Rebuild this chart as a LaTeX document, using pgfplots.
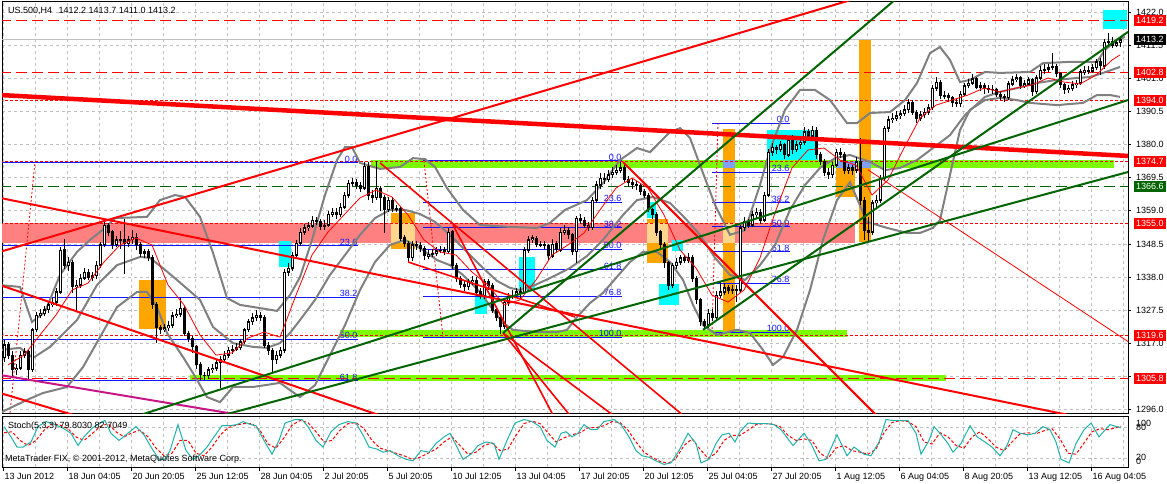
\documentclass[border=0pt]{standalone}
\usepackage{pgfplots}
\pgfplotsset{compat=1.18}
\usepackage{pgfplotstable}
\usepackage{fontspec}
\setmainfont{Liberation Sans}

\definecolor{mtgrid}{RGB}{192,192,192}
\definecolor{mtpink}{RGB}{255,128,128}
\definecolor{mtorange}{RGB}{255,165,0}
\definecolor{mtlime}{RGB}{124,252,0}
\definecolor{mtcyan}{RGB}{0,255,255}
\definecolor{mtpeach}{RGB}{255,214,140}
\definecolor{mtsky}{RGB}{128,160,255}
\definecolor{mtgreen}{RGB}{0,100,0}
\definecolor{mtgray}{RGB}{128,128,128}
\definecolor{mtmagenta}{RGB}{199,21,133}
\definecolor{mtsea}{RGB}{32,178,170}
\definecolor{mtblue}{RGB}{20,20,255}

\newcommand\mtf{\fontsize{9bp}{10bp}\selectfont}
\newcommand\fibf{\fontsize{9bp}{10bp}\selectfont}

% H4 candles: x is the bar position in chart pixels, then open high low close
\pgfplotstableread{
x o h l c
4 1312.5 1318.0 1311.0 1316.5
8 1316.5 1317.5 1312.0 1313.3
12 1313.3 1314.5 1306.5 1308.6
16 1308.6 1310.5 1307.0 1309.2
20 1309.2 1314.5 1308.5 1313.3
24 1313.3 1315.5 1312.5 1314.3
28 1314.3 1315.0 1305.0 1308.6
32 1308.6 1322.0 1308.0 1321.3
36 1321.3 1327.0 1320.5 1326.0
40 1326.0 1328.0 1325.0 1326.6
44 1326.6 1328.8 1325.8 1327.6
48 1327.6 1330.5 1326.8 1329.2
52 1329.2 1331.5 1328.5 1330.1
56 1330.1 1334.5 1329.0 1333.3
60 1333.3 1347.5 1332.5 1346.6
64 1346.6 1350.0 1340.5 1341.8
68 1341.8 1344.5 1340.0 1342.8
72 1342.8 1343.5 1333.0 1334.9
76 1334.9 1337.0 1327.0 1335.5
80 1335.5 1339.0 1334.5 1337.7
84 1337.7 1341.0 1337.0 1339.6
88 1339.6 1340.5 1337.0 1338.0
92 1338.0 1339.5 1336.8 1338.4
96 1338.4 1343.0 1337.5 1341.8
100 1341.8 1349.0 1341.0 1348.2
104 1348.2 1355.5 1347.5 1354.5
108 1354.5 1355.0 1351.0 1352.3
112 1352.3 1353.0 1347.0 1348.2
116 1348.2 1351.0 1347.5 1349.8
120 1349.8 1352.5 1347.0 1350.0
124 1350.0 1356.5 1339.0 1348.8
128 1348.8 1351.0 1347.5 1349.8
132 1349.8 1353.0 1348.5 1350.7
136 1350.7 1352.0 1346.5 1348.2
140 1348.2 1349.0 1344.5 1345.6
144 1345.6 1347.0 1344.0 1346.0
148 1346.0 1347.0 1343.0 1344.1
152 1344.1 1345.0 1328.0 1329.2
156 1329.2 1330.0 1317.0 1321.9
160 1321.9 1323.0 1320.0 1321.3
164 1321.3 1323.0 1320.5 1321.9
168 1321.9 1324.0 1321.0 1322.8
172 1322.8 1327.0 1322.0 1325.7
176 1325.7 1328.0 1325.0 1326.3
180 1326.3 1331.5 1325.5 1328.2
184 1328.2 1329.0 1319.5 1320.3
188 1320.3 1321.0 1317.5 1318.7
192 1318.7 1319.5 1314.0 1315.9
196 1315.9 1316.5 1309.0 1310.2
200 1310.2 1311.0 1305.5 1307.0
204 1307.0 1308.0 1305.5 1306.7
208 1306.7 1309.5 1305.8 1308.6
212 1308.6 1310.5 1307.5 1309.2
216 1309.2 1311.8 1308.2 1310.8
220 1310.8 1313.0 1303.0 1311.8
224 1311.8 1314.5 1311.0 1313.3
228 1313.3 1316.0 1312.5 1314.9
232 1314.9 1316.5 1313.8 1315.2
236 1315.2 1317.0 1314.5 1315.6
240 1315.6 1318.5 1314.8 1317.5
244 1317.5 1322.0 1316.8 1321.3
248 1321.3 1324.8 1320.5 1323.8
252 1323.8 1326.5 1323.0 1325.1
256 1325.1 1327.5 1324.0 1326.0
260 1326.0 1327.0 1324.0 1325.1
264 1325.1 1326.0 1315.5 1316.5
268 1316.5 1317.5 1313.5 1314.9
272 1314.9 1315.5 1308.0 1311.8
276 1311.8 1314.5 1310.5 1313.3
280 1313.3 1316.0 1312.5 1314.9
284 1314.9 1340.5 1314.0 1339.6
288 1339.6 1342.5 1338.5 1340.9
292 1340.9 1346.0 1340.0 1345.0
296 1345.0 1349.8 1344.0 1348.8
300 1348.8 1353.5 1348.0 1352.3
304 1352.3 1355.0 1351.5 1353.6
308 1353.6 1355.5 1352.5 1354.2
312 1354.2 1357.5 1353.5 1356.1
316 1356.1 1357.0 1354.5 1355.5
320 1355.5 1356.5 1353.0 1354.2
324 1354.2 1356.0 1353.0 1354.5
328 1354.5 1359.0 1353.8 1358.0
332 1358.0 1360.0 1357.0 1358.6
336 1358.6 1360.0 1356.5 1357.7
340 1357.7 1361.5 1357.0 1360.2
344 1360.2 1365.0 1359.5 1364.0
348 1364.0 1368.8 1363.0 1367.8
352 1367.8 1369.5 1366.8 1368.1
356 1368.1 1369.0 1366.0 1366.9
360 1366.9 1368.0 1365.0 1366.2
364 1366.2 1374.5 1365.5 1373.2
368 1373.2 1374.5 1362.5 1364.0
372 1364.0 1365.5 1361.5 1363.1
376 1363.1 1374.8 1362.5 1366.2
380 1366.2 1367.0 1359.0 1363.1
384 1363.1 1364.0 1352.0 1359.3
388 1359.3 1363.5 1358.5 1362.4
392 1362.4 1363.0 1358.5 1359.9
396 1359.9 1361.0 1358.5 1359.6
400 1359.6 1360.5 1349.5 1350.4
404 1350.4 1351.5 1347.5 1348.8
408 1348.8 1349.5 1342.5 1344.1
412 1344.1 1349.5 1343.0 1348.2
416 1348.2 1349.5 1346.5 1347.9
420 1347.9 1349.0 1346.0 1347.2
424 1347.2 1348.0 1343.5 1344.7
428 1344.7 1346.5 1343.8 1345.3
432 1345.3 1347.0 1344.5 1345.6
436 1345.6 1347.5 1344.8 1346.3
440 1346.3 1348.0 1345.5 1346.6
444 1346.6 1347.5 1345.0 1346.0
448 1346.0 1353.5 1345.5 1352.3
452 1352.3 1353.0 1340.5 1341.8
456 1341.8 1342.5 1336.5 1337.7
460 1337.7 1338.5 1334.5 1335.8
464 1335.8 1337.0 1333.5 1334.9
468 1334.9 1337.5 1333.8 1336.5
472 1336.5 1338.5 1335.5 1337.1
476 1337.1 1338.0 1332.0 1333.3
480 1333.3 1334.5 1331.0 1332.0
484 1332.0 1337.5 1331.2 1336.5
488 1336.5 1337.5 1334.0 1335.5
492 1335.5 1336.0 1326.5 1327.6
496 1327.6 1328.5 1324.0 1325.1
500 1325.1 1326.0 1320.0 1322.5
504 1322.5 1331.0 1321.5 1330.1
508 1330.1 1333.0 1329.0 1332.0
512 1332.0 1334.0 1331.0 1332.3
516 1332.3 1334.5 1331.5 1333.3
520 1333.3 1334.8 1331.5 1333.0
524 1333.0 1347.5 1332.5 1346.6
528 1346.6 1351.0 1345.5 1349.8
532 1349.8 1351.5 1348.8 1350.4
536 1350.4 1351.0 1347.5 1348.2
540 1348.2 1349.5 1347.5 1348.5
544 1348.5 1349.5 1347.0 1347.9
548 1347.9 1348.5 1343.5 1344.7
552 1344.7 1350.0 1344.0 1348.5
556 1348.5 1349.5 1345.5 1346.6
560 1346.6 1353.5 1346.0 1352.3
564 1352.3 1354.5 1351.5 1352.9
568 1352.9 1353.8 1350.0 1351.4
572 1351.4 1352.0 1345.0 1346.0
576 1346.0 1357.5 1342.5 1356.7
580 1356.7 1358.0 1355.0 1356.1
584 1356.1 1357.0 1353.5 1354.5
588 1354.5 1355.5 1352.5 1353.6
592 1353.6 1363.5 1353.0 1362.4
596 1362.4 1368.5 1361.5 1367.2
600 1367.2 1371.0 1366.0 1369.4
604 1369.4 1371.0 1367.5 1368.8
608 1368.8 1372.0 1368.0 1370.4
612 1370.4 1373.0 1369.5 1371.3
616 1371.3 1373.5 1370.5 1371.9
620 1371.9 1374.5 1371.0 1372.6
624 1372.6 1374.0 1368.0 1368.8
628 1368.8 1370.0 1366.5 1368.1
632 1368.1 1369.0 1366.0 1367.2
636 1367.2 1368.5 1365.5 1366.9
640 1366.9 1367.5 1364.0 1365.0
644 1365.0 1366.0 1363.0 1364.0
648 1364.0 1364.5 1358.5 1359.3
652 1359.3 1360.0 1356.5 1357.7
656 1357.7 1358.5 1351.0 1352.3
660 1352.3 1353.0 1347.0 1348.2
664 1348.2 1349.0 1341.0 1342.5
668 1342.5 1343.0 1334.0 1335.5
672 1335.5 1342.5 1334.5 1341.8
676 1341.8 1344.0 1340.5 1342.8
680 1342.8 1345.0 1342.0 1344.1
684 1344.1 1345.0 1342.5 1343.4
688 1343.4 1345.5 1342.5 1344.1
692 1344.1 1345.0 1336.5 1337.7
696 1337.7 1338.5 1329.5 1330.8
700 1330.8 1331.5 1322.5 1323.8
704 1323.8 1324.8 1321.5 1322.8
708 1322.8 1328.0 1322.0 1326.6
712 1326.6 1328.0 1324.0 1325.1
716 1325.1 1333.5 1324.5 1332.3
720 1332.3 1336.5 1331.5 1333.3
724 1333.3 1336.0 1332.5 1334.6
728 1334.6 1335.5 1332.5 1333.9
732 1333.9 1335.5 1332.8 1334.2
736 1334.2 1335.5 1330.0 1333.9
740 1333.9 1354.5 1333.0 1353.6
744 1353.6 1357.0 1352.5 1355.5
748 1355.5 1356.5 1353.5 1354.5
752 1354.5 1359.0 1353.8 1357.7
756 1357.7 1360.0 1356.5 1358.6
760 1358.6 1359.5 1355.0 1356.1
764 1356.1 1365.0 1355.5 1364.0
768 1364.0 1378.5 1363.5 1377.6
772 1377.6 1380.5 1376.5 1379.2
776 1379.2 1380.0 1377.0 1378.3
780 1378.3 1381.0 1377.5 1379.9
784 1379.9 1380.5 1375.5 1376.7
788 1376.7 1382.5 1376.0 1381.4
792 1381.4 1383.0 1377.0 1378.3
796 1378.3 1381.0 1377.5 1379.9
800 1379.9 1382.0 1378.5 1380.8
804 1380.8 1385.5 1380.0 1384.0
808 1384.0 1385.0 1381.5 1382.7
812 1382.7 1386.0 1381.8 1384.6
816 1384.6 1385.5 1375.5 1376.7
820 1376.7 1377.5 1373.5 1374.5
824 1374.5 1375.5 1370.0 1371.3
828 1371.3 1372.5 1369.0 1370.4
832 1370.4 1374.5 1369.5 1373.5
836 1373.5 1378.5 1372.8 1377.6
840 1377.6 1378.8 1375.8 1377.0
844 1377.0 1377.8 1370.8 1371.9
848 1371.9 1374.0 1370.8 1372.6
852 1372.6 1373.5 1370.5 1371.9
856 1371.9 1376.0 1371.0 1374.5
860 1374.5 1382.0 1361.0 1362.4
864 1362.4 1363.5 1349.8 1352.9
868 1352.9 1357.0 1349.5 1352.3
872 1352.3 1362.5 1351.5 1361.5
876 1361.5 1364.0 1360.0 1362.4
880 1362.4 1370.5 1361.5 1369.4
884 1369.4 1386.0 1368.5 1385.2
888 1385.2 1389.0 1384.0 1387.8
892 1387.8 1390.0 1386.8 1388.4
896 1388.4 1390.5 1387.5 1389.1
900 1389.1 1391.0 1388.0 1389.7
904 1389.7 1392.5 1389.0 1391.0
908 1391.0 1394.5 1390.0 1393.2
912 1393.2 1394.0 1389.5 1390.3
916 1390.3 1391.0 1387.0 1388.4
920 1388.4 1390.5 1387.5 1389.4
924 1389.4 1391.5 1388.5 1390.3
928 1390.3 1392.8 1389.5 1391.6
932 1391.6 1399.0 1391.0 1397.9
936 1397.9 1401.5 1397.0 1399.8
940 1399.8 1400.5 1394.5 1395.7
944 1395.7 1397.0 1394.5 1395.4
948 1395.4 1396.5 1393.5 1394.8
952 1394.8 1395.5 1392.0 1393.2
956 1393.2 1394.5 1391.8 1392.9
960 1392.9 1397.0 1392.0 1396.0
964 1396.0 1399.5 1395.5 1398.6
968 1398.6 1400.8 1397.8 1399.5
972 1399.5 1402.5 1398.8 1400.8
976 1400.8 1401.5 1397.5 1398.2
980 1398.2 1399.8 1397.0 1398.6
984 1398.6 1399.5 1396.0 1397.9
988 1397.9 1399.0 1396.5 1397.6
992 1397.6 1398.8 1396.0 1397.3
996 1397.3 1398.0 1395.0 1396.0
1000 1396.0 1397.0 1394.0 1395.1
1004 1395.1 1396.0 1393.5 1394.8
1008 1394.8 1400.0 1394.0 1399.2
1012 1399.2 1401.8 1398.5 1400.5
1016 1400.5 1402.5 1399.8 1401.1
1020 1401.1 1401.8 1397.5 1398.6
1024 1398.6 1400.5 1398.0 1399.2
1028 1399.2 1401.5 1398.5 1400.5
1032 1400.5 1401.0 1395.5 1396.7
1036 1396.7 1402.0 1396.0 1401.1
1040 1401.1 1404.8 1400.5 1403.6
1044 1403.6 1405.5 1402.5 1403.9
1048 1403.9 1405.5 1403.0 1404.3
1052 1404.3 1409.0 1403.5 1404.6
1056 1404.6 1405.5 1401.5 1402.4
1060 1402.4 1403.0 1398.0 1398.9
1064 1398.9 1399.5 1396.0 1397.3
1068 1397.3 1399.0 1396.5 1397.9
1072 1397.9 1400.0 1397.0 1398.9
1076 1398.9 1400.5 1398.0 1399.5
1080 1399.5 1404.0 1399.0 1403.0
1084 1403.0 1405.0 1402.0 1403.6
1088 1403.6 1404.8 1402.5 1403.3
1092 1403.3 1405.5 1402.8 1404.3
1096 1404.3 1407.0 1403.5 1406.2
1100 1406.2 1407.5 1402.0 1404.9
1104 1404.9 1413.5 1404.0 1412.5
1108 1412.5 1415.5 1411.5 1412.8
1112 1412.8 1414.0 1410.5 1411.5
1116 1411.5 1413.5 1410.8 1412.2
1120 1412.2 1413.7 1411.0 1413.2
}\candles

\tikzset{
  lvbox/.style={anchor=west, inner xsep=2bp, inner ysep=0bp, minimum height=11bp,
    text=white, font=\mtf, xshift=6bp},
  tklbl/.style={anchor=west, inner sep=0bp, font=\mtf, xshift=8bp},
}

\begin{document}
\begin{tikzpicture}
\useasboundingbox (0,0) rectangle (1167bp,484bp);
\fill[white] (0,0) rectangle (1167bp,484bp);

% ---------------- price window ----------------
\begin{axis}[
  name=main, at={(2bp,70bp)}, anchor=south west, scale only axis,
  width=1126bp, height=412bp,
  xmin=2, xmax=1128, ymin=1294.64, ymax=1425.17,
  axis line style={black, line width=1bp},
  xtick={3.5,35.5,...,1123.5}, xticklabels={}, xtick style={draw=none},
  ytick={1296,1306.5,1317,1327.5,1338,1348.5,1359,1369.5,1380,1390.5,1401,1411.5,1422},
  yticklabels={}, ytick pos=right, tick align=outside, major tick length=3bp,
  ytick style={black, line width=0.8bp},
  grid=major, major grid style={mtgrid, line width=0.8bp, dash pattern=on 3bp off 3bp},
]
% rectangles
\addplot[fill=mtpink, draw=none] coordinates {(0,1355.2) (855,1355.2) (855,1348.8) (0,1348.8)} -- cycle;
\addplot[fill=mtlime, draw=none] coordinates {(371,1375.1) (1114,1375.1) (1114,1372.6) (371,1372.6)} -- cycle;
\addplot[fill=mtlime, draw=none] coordinates {(340,1321.3) (847,1321.3) (847,1319.0) (340,1319.0)} -- cycle;
\addplot[fill=mtlime, draw=none] coordinates {(190,1307.0) (946,1307.0) (946,1305.1) (190,1305.1)} -- cycle;
\addplot[fill=mtorange, draw=none] coordinates {(139,1337.1) (166,1337.1) (166,1321.6) (139,1321.6)} -- cycle;
\addplot[fill=mtorange, draw=none] coordinates {(391,1358.3) (415,1358.3) (415,1346.9) (391,1346.9)} -- cycle;
\addplot[fill=mtorange, draw=none] coordinates {(647,1356.4) (668,1356.4) (668,1342.5) (647,1342.5)} -- cycle;
\addplot[fill=mtorange, draw=none] coordinates {(723,1384.9) (735,1384.9) (735,1320.9) (723,1320.9)} -- cycle;
\addplot[fill=mtorange, draw=none] coordinates {(836,1374.8) (855,1374.8) (855,1363.4) (836,1363.4)} -- cycle;
\addplot[fill=mtorange, draw=none] coordinates {(859,1413.4) (871,1413.4) (871,1349.1) (859,1349.1)} -- cycle;
\addplot[fill=mtpeach, draw=none] coordinates {(391,1355.2) (415,1355.2) (415,1348.8) (391,1348.8)} -- cycle;
\addplot[fill=mtpeach, draw=none] coordinates {(647,1355.2) (668,1355.2) (668,1348.8) (647,1348.8)} -- cycle;
\addplot[fill=mtpeach, draw=none] coordinates {(723,1355.2) (735,1355.2) (735,1348.8) (723,1348.8)} -- cycle;
\addplot[fill=mtsky, draw=none] coordinates {(723,1375.1) (735,1375.1) (735,1372.6) (723,1372.6)} -- cycle;
\addplot[fill=mtsky, draw=none] coordinates {(836,1374.8) (855,1374.8) (855,1372.6) (836,1372.6)} -- cycle;
\addplot[fill=mtsky, draw=none] coordinates {(859,1375.1) (871,1375.1) (871,1372.6) (859,1372.6)} -- cycle;
\addplot[fill=mtcyan, draw=none] coordinates {(279,1349.5) (291,1349.5) (291,1341.2) (279,1341.2)} -- cycle;
\addplot[fill=mtcyan, draw=none] coordinates {(519,1344.4) (535,1344.4) (535,1333.9) (519,1333.9)} -- cycle;
\addplot[fill=mtcyan, draw=none] coordinates {(475,1332.3) (487,1332.3) (487,1326.3) (475,1326.3)} -- cycle;
\addplot[fill=mtcyan, draw=none] coordinates {(659,1335.8) (679,1335.8) (679,1329.2) (659,1329.2)} -- cycle;
\addplot[fill=mtcyan, draw=none] coordinates {(672,1349.8) (683,1349.8) (683,1346.3) (672,1346.3)} -- cycle;
\addplot[fill=mtcyan, draw=none] coordinates {(647,1361.8) (656,1361.8) (656,1356.7) (647,1356.7)} -- cycle;
\addplot[fill=mtcyan, draw=none] coordinates {(767,1384.6) (818,1384.6) (818,1375.1) (767,1375.1)} -- cycle;
\addplot[fill=mtcyan, draw=none] coordinates {(1103,1422.6) (1127,1422.6) (1127,1416.6) (1103,1416.6)} -- cycle;

% horizontal levels
\addplot[mtgrid, line width=1bp] coordinates {(0,1413.2) (1128,1413.2)};
\addplot[red, line width=1bp, dash pattern=on 11bp off 5bp] coordinates {(0,1419.2) (1128,1419.2)};
\addplot[red, line width=1bp, dash pattern=on 11bp off 5bp] coordinates {(0,1402.8) (1128,1402.8)};
\addplot[red, line width=1bp, dash pattern=on 3bp off 2bp] coordinates {(0,1394.0) (1128,1394.0)};
\addplot[red, line width=1bp, dash pattern=on 3bp off 2bp] coordinates {(0,1374.7) (1128,1374.7)};
\addplot[mtgreen, line width=1bp, dash pattern=on 11bp off 5bp] coordinates {(0,1366.6) (1128,1366.6)};
\addplot[red, line width=1bp, dash pattern=on 3bp off 2bp] coordinates {(0,1355.0) (1128,1355.0)};
\addplot[red, line width=1bp, dash pattern=on 3bp off 2bp] coordinates {(0,1319.6) (1128,1319.6)};
\addplot[red, line width=1bp, dash pattern=on 11bp off 5bp] coordinates {(0,1305.8) (1128,1305.8)};

% fibonacci retracements
\addplot[mtblue, line width=1bp] coordinates {(0,1374.2) (358,1374.2)};
\addplot[mtblue, line width=1bp] coordinates {(0,1347.9) (358,1347.9)};
\addplot[mtblue, line width=1bp] coordinates {(0,1331.7) (358,1331.7)};
\addplot[mtblue, line width=1bp] coordinates {(0,1318.4) (358,1318.4)};
\addplot[mtblue, line width=1bp] coordinates {(0,1305.1) (358,1305.1)};
\addplot[mtblue, line width=1bp] coordinates {(423,1374.8) (622,1374.8)};
\addplot[mtblue, line width=1bp] coordinates {(423,1361.6) (622,1361.6)};
\addplot[mtblue, line width=1bp] coordinates {(423,1353.6) (622,1353.6)};
\addplot[mtblue, line width=1bp] coordinates {(423,1346.9) (622,1346.9)};
\addplot[mtblue, line width=1bp] coordinates {(423,1340.3) (622,1340.3)};
\addplot[mtblue, line width=1bp] coordinates {(423,1332.0) (622,1332.0)};
\addplot[mtblue, line width=1bp] coordinates {(423,1319.0) (622,1319.0)};
\addplot[mtblue, line width=1bp] coordinates {(712,1386.8) (790,1386.8)};
\addplot[mtblue, line width=1bp] coordinates {(712,1371.3) (790,1371.3)};
\addplot[mtblue, line width=1bp] coordinates {(712,1361.5) (790,1361.5)};
\addplot[mtblue, line width=1bp] coordinates {(712,1353.9) (790,1353.9)};
\addplot[mtblue, line width=1bp] coordinates {(712,1346.0) (790,1346.0)};
\addplot[mtblue, line width=1bp] coordinates {(712,1336.1) (790,1336.1)};
\addplot[mtblue, line width=1bp] coordinates {(712,1320.6) (790,1320.6)};
\addplot[red, line width=0.8bp, dash pattern=on 2bp off 2bp] coordinates {(10,1295.0) (35,1374.5)};
\addplot[red, line width=0.8bp, dash pattern=on 2bp off 2bp] coordinates {(424,1374.8) (443,1319.0)};
\addplot[red, line width=0.8bp, dash pattern=on 2bp off 2bp] coordinates {(718,1386.8) (712,1320.6)};
\foreach \yy/\tt in {1374.2/0.0, 1347.9/23.6, 1331.7/38.2, 1318.4/50.0, 1305.1/61.8}
  {\edef\temp{\noexpand\node[anchor=south east, inner sep=0.5bp, font=\noexpand\fibf, text=mtblue] at (axis cs:358,\yy) {\tt};}\temp}
\foreach \yy/\tt in {1374.8/0.0, 1361.6/23.6, 1353.6/38.2, 1346.9/50.0, 1340.3/61.8, 1332.0/76.8, 1319.0/100.0}
  {\edef\temp{\noexpand\node[anchor=south east, inner sep=0.5bp, font=\noexpand\fibf, text=mtblue] at (axis cs:622,\yy) {\tt};}\temp}
\foreach \yy/\tt in {1386.8/0.0, 1371.3/23.6, 1361.5/38.2, 1353.9/50.0, 1346.0/61.8, 1336.1/76.8, 1320.6/100.0}
  {\edef\temp{\noexpand\node[anchor=south east, inner sep=0.5bp, font=\noexpand\fibf, text=mtblue] at (axis cs:790,\yy) {\tt};}\temp}

% Bollinger bands
\addplot[mtgray, line width=2bp] coordinates {(0,1335.5)(20,1334.9)(32,1323.8)(45,1327.0)(60,1338.7)(77,1346.0)(90,1349.8)(105,1353.6)(115,1356.7)(147,1357.1)(160,1362.4)(175,1364.0)(185,1363.4)(200,1357.1)(213,1345.7)(227,1331.4)(240,1329.2)(260,1328.2)(277,1327.3)(290,1332.3)(300,1338.0)(312,1349.8)(325,1364.0)(337,1375.1)(345,1379.2)(352,1379.2)(360,1374.2)(380,1372.3)(400,1372.9)(413,1375.7)(425,1375.4)(435,1372.9)(447,1366.2)(463,1359.3)(480,1354.5)(510,1353.9)(537,1353.6)(550,1355.2)(565,1359.3)(587,1362.4)(603,1367.8)(620,1375.1)(637,1378.9)(650,1377.6)(670,1384.0)(680,1385.2)(690,1382.1)(700,1373.5)(715,1360.9)(730,1351.4)(745,1352.9)(760,1367.2)(770,1378.3)(785,1391.0)(800,1397.3)(815,1397.3)(830,1394.1)(847,1386.8)(857,1386.8)(870,1390.0)(890,1390.3)(905,1394.1)(917,1399.5)(930,1409.0)(940,1410.9)(950,1406.8)(960,1399.8)(970,1400.5)(985,1403.0)(1000,1402.7)(1030,1403.0)(1043,1405.8)(1070,1406.2)(1097,1406.2)(1105,1410.0)(1117,1413.1)(1125,1414.1)};
\addplot[mtgray, line width=2bp] coordinates {(0,1314.9)(20,1315.6)(33,1312.4)(50,1315.9)(77,1324.4)(97,1335.5)(117,1341.8)(140,1344.4)(150,1344.1)(165,1340.3)(177,1337.1)(200,1330.8)(213,1322.2)(233,1317.1)(253,1315.9)(267,1315.6)(280,1317.1)(290,1320.3)(300,1324.4)(315,1330.8)(330,1338.7)(345,1345.0)(360,1351.4)(375,1356.7)(390,1359.3)(405,1359.3)(420,1358.0)(435,1355.5)(450,1351.4)(465,1346.6)(480,1341.8)(497,1336.8)(510,1334.6)(520,1333.9)(535,1335.5)(550,1337.7)(570,1340.9)(587,1344.7)(603,1349.8)(623,1357.7)(637,1362.4)(653,1363.4)(670,1361.5)(685,1356.7)(700,1351.4)(715,1344.1)(730,1338.7)(745,1337.1)(760,1341.8)(775,1348.2)(790,1359.3)(805,1367.2)(820,1372.6)(835,1375.7)(850,1376.7)(870,1374.5)(885,1371.9)(900,1372.6)(917,1375.1)(933,1378.9)(950,1383.0)(965,1389.4)(985,1395.1)(1000,1396.7)(1017,1397.9)(1037,1399.5)(1057,1400.5)(1077,1401.1)(1090,1401.4)(1103,1402.7)(1120,1404.6)};
\addplot[mtgray, line width=2bp] coordinates {(0,1295.0)(27,1299.1)(43,1301.3)(67,1303.2)(83,1309.5)(100,1319.0)(117,1328.5)(137,1333.3)(147,1333.3)(157,1328.5)(167,1320.3)(183,1312.7)(193,1307.6)(207,1300.0)(220,1298.4)(233,1303.2)(253,1303.2)(280,1304.5)(290,1302.2)(300,1300.0)(315,1303.8)(330,1313.3)(345,1322.8)(360,1333.9)(375,1342.8)(390,1348.2)(405,1349.8)(420,1347.2)(437,1343.4)(450,1341.8)(463,1338.7)(480,1333.3)(493,1327.6)(503,1323.5)(513,1321.3)(537,1320.6)(557,1320.6)(567,1321.3)(577,1325.4)(590,1329.8)(603,1333.0)(617,1338.1)(630,1342.8)(643,1346.0)(657,1346.0)(670,1342.8)(683,1337.1)(693,1329.2)(703,1322.8)(717,1319.7)(737,1321.3)(750,1320.3)(763,1314.9)(773,1310.2)(783,1312.7)(797,1321.3)(810,1333.9)(823,1349.8)(837,1362.4)(850,1368.1)(867,1355.5)(887,1353.6)(907,1352.0)(920,1352.0)(933,1353.6)(940,1356.1)(950,1370.4)(960,1384.6)(970,1391.0)(985,1394.1)(1000,1394.8)(1017,1394.1)(1030,1393.2)(1057,1392.5)(1083,1393.2)(1097,1395.7)(1110,1395.7)(1120,1395.1)};

% candles: wicks, bodies, hollow bull bodies
\addplot[draw=none, mark=none, error bars/.cd, y dir=both, y explicit, error mark=none,
  error bar style={draw=black, line width=1bp}]
  table[x=x, y expr={(\thisrow{h}+\thisrow{l})/2}, y error expr={(\thisrow{h}-\thisrow{l})/2}] {\candles};
\addplot[draw=none, mark=none, error bars/.cd, y dir=both, y explicit, error mark=none,
  error bar style={draw=black, line width=3bp}]
  table[x=x, y expr={(\thisrow{o}+\thisrow{c})/2}, y error expr={abs(\thisrow{c}-\thisrow{o})/2+0.16}] {\candles};
\addplot[draw=none, mark=none, restrict expr to domain={\thisrow{c}-\thisrow{o}}{0.5:1000},
  error bars/.cd, y dir=both, y explicit, error mark=none,
  error bar style={draw=white, line width=1bp}]
  table[x=x, y expr={(\thisrow{o}+\thisrow{c})/2}, y error expr={(\thisrow{c}-\thisrow{o})/2-0.32}] {\candles};

% moving average
\addplot[red, line width=0.8bp] coordinates {(8,1310.2)(24,1313.3)(40,1319.7)(56,1326.0)(72,1333.9)(88,1336.1)(104,1342.8)(120,1348.2)(136,1350.4)(152,1348.2)(168,1335.5)(184,1329.2)(200,1319.7)(216,1313.3)(232,1314.0)(248,1318.7)(264,1320.6)(280,1319.0)(296,1332.3)(312,1345.0)(328,1352.3)(344,1357.7)(360,1363.1)(376,1365.6)(392,1363.4)(408,1357.7)(424,1349.8)(440,1346.0)(456,1345.0)(472,1339.6)(488,1335.5)(504,1329.2)(520,1330.8)(536,1337.1)(552,1345.0)(568,1348.2)(584,1352.0)(600,1359.3)(616,1366.2)(632,1369.4)(648,1366.2)(664,1357.7)(680,1346.6)(696,1340.9)(712,1332.3)(728,1330.1)(744,1333.9)(760,1344.1)(776,1359.3)(792,1372.6)(808,1378.3)(824,1378.9)(840,1375.1)(856,1373.5)(872,1364.0)(888,1368.8)(904,1378.9)(920,1388.4)(936,1392.5)(952,1394.1)(968,1395.7)(984,1397.9)(1000,1396.7)(1016,1397.9)(1032,1398.9)(1048,1401.1)(1064,1399.8)(1080,1399.2)(1096,1402.0)(1112,1406.8)(1120,1408.4)};

% trend lines
\addplot[red, line width=4.5bp] coordinates {(0,1395.7) (1128,1376.4)};
\addplot[red, line width=2bp] coordinates {(0,1346.0) (870,1427.6)};
\addplot[red, line width=2bp] coordinates {(0,1363.1) (1128,1290.5)};
\addplot[red, line width=2bp] coordinates {(0,1335.5) (400,1292.0)};
\addplot[red, line width=2bp] coordinates {(0,1301.3) (100,1291.8)};
\addplot[red, line width=1.6bp] coordinates {(380,1374.2) (690,1292.4)};
\addplot[red, line width=1.6bp] coordinates {(453,1354.5) (556,1292.5)};
\addplot[red, line width=1.6bp] coordinates {(408,1342.8) (575,1325.4)};
\addplot[red, line width=1.6bp] coordinates {(503,1320.3) (572,1293.4)};
\addplot[red, line width=1.6bp] coordinates {(503,1320.3) (615,1293.8)};
\addplot[red, line width=2bp] coordinates {(623,1374.5) (880,1293.1)};
\addplot[red, line width=0.8bp] coordinates {(868,1372.0) (1128,1317.6)};
\addplot[mtmagenta, line width=2bp] coordinates {(0,1307.0) (250,1293.8)};
\addplot[mtgreen, line width=2bp] coordinates {(503,1320.3) (900,1427.2)};
\addplot[mtgreen, line width=2bp] coordinates {(703,1321.3) (1128,1415.7)};
\addplot[mtgreen, line width=2bp] coordinates {(143,1294.6) (1128,1394.1)};
\addplot[mtgreen, line width=2bp] coordinates {(227,1294.6) (1128,1371.3)};

\coordinate (lvA) at (axis cs:1128,1419.2);
\coordinate (lvB) at (axis cs:1128,1413.2);
\coordinate (lvC) at (axis cs:1128,1402.8);
\coordinate (lvD) at (axis cs:1128,1394.0);
\coordinate (lvE) at (axis cs:1128,1374.7);
\coordinate (lvF) at (axis cs:1128,1366.6);
\coordinate (lvG) at (axis cs:1128,1355.0);
\coordinate (lvH) at (axis cs:1128,1319.6);
\coordinate (lvI) at (axis cs:1128,1305.8);
\coordinate (tkA) at (axis cs:1128,1422);
\coordinate (tkB) at (axis cs:1128,1411.5);
\coordinate (tkC) at (axis cs:1128,1401);
\coordinate (tkD) at (axis cs:1128,1390.5);
\coordinate (tkE) at (axis cs:1128,1380);
\coordinate (tkF) at (axis cs:1128,1369.5);
\coordinate (tkG) at (axis cs:1128,1359);
\coordinate (tkH) at (axis cs:1128,1348.5);
\coordinate (tkI) at (axis cs:1128,1338);
\coordinate (tkJ) at (axis cs:1128,1327.5);
\coordinate (tkK) at (axis cs:1128,1317);
\coordinate (tkM) at (axis cs:1128,1296);
\end{axis}

% ---------------- stochastic window ----------------
\begin{axis}[
  name=stoch, at={(2bp,17bp)}, anchor=south west, scale only axis,
  width=1126bp, height=51bp,
  xmin=2, xmax=1128, ymin=2.94, ymax=102.9,
  axis line style={black, line width=1bp},
  xtick={3.5,67.5,...,1091.5},
  minor xtick={35.5,99.5,...,1123.5},
  xticklabels={13 Jun 2012,18 Jun 04:05,20 Jun 20:05,25 Jun 12:05,28 Jun 04:05,2 Jul 20:05,5 Jul 20:05,10 Jul 12:05,13 Jul 04:05,17 Jul 20:05,20 Jul 12:05,25 Jul 04:05,27 Jul 20:05,1 Aug 12:05,6 Aug 04:05,8 Aug 20:05,13 Aug 12:05,16 Aug 04:05},
  xtick pos=bottom, tick align=outside, major tick length=4bp, minor tick length=0bp,
  xtick style={black, line width=0.8bp},
  xticklabel style={font=\mtf, anchor=north west, inner sep=0bp, xshift=1bp, yshift=-2bp},
  ytick={20,80}, yticklabels={}, ytick style={draw=none},
  grid=both,
  major grid style={mtgrid, line width=0.8bp, dash pattern=on 3bp off 3bp},
  minor grid style={mtgrid, line width=0.8bp, dash pattern=on 3bp off 3bp},
]
\addplot[red, line width=1bp, dash pattern=on 3bp off 2bp] coordinates {(4,70)(12,72)(20,55)(28,45)(36,55)(44,75)(52,88)(60,85)(68,78)(76,62)(84,55)(92,68)(100,82)(108,88)(116,72)(124,62)(132,70)(140,75)(148,62)(156,40)(164,25)(172,30)(180,55)(188,55)(196,30)(204,25)(212,42)(220,65)(228,80)(236,85)(244,88)(252,88)(260,75)(268,48)(276,40)(284,60)(292,85)(300,94)(308,90)(316,72)(324,52)(332,55)(340,75)(348,88)(356,90)(364,78)(372,55)(380,40)(388,35)(396,30)(404,25)(412,18)(420,22)(428,30)(436,38)(444,52)(452,62)(460,45)(468,28)(476,32)(484,45)(492,50)(500,35)(508,38)(516,65)(524,88)(532,93)(540,88)(548,70)(556,52)(564,60)(572,66)(580,70)(588,80)(596,80)(604,84)(612,92)(620,90)(628,75)(636,52)(644,32)(652,22)(660,14)(668,10)(676,20)(684,45)(692,58)(700,38)(708,20)(716,30)(724,55)(732,65)(740,65)(748,75)(756,86)(764,88)(772,87)(780,82)(788,65)(796,55)(804,58)(812,55)(820,30)(828,20)(836,40)(844,45)(852,35)(860,32)(868,28)(876,38)(884,70)(892,90)(900,94)(908,92)(916,82)(924,52)(932,48)(940,70)(948,62)(956,45)(964,40)(972,62)(980,72)(988,58)(996,42)(1004,35)(1012,52)(1020,68)(1028,70)(1036,68)(1044,74)(1052,78)(1060,58)(1068,30)(1076,28)(1084,50)(1092,72)(1100,78)(1108,76)(1116,80)(1121,83)};
\addplot[mtsea, line width=1bp] coordinates {(4,82)(11,62)(17,42)(23,42)(31,52)(38,82)(46,92)(55,86)(63,79)(71,69)(78,45)(84,62)(92,79)(100,89)(105,94)(111,69)(119,55)(126,66)(136,82)(144,66)(151,42)(159,18)(165,18)(170,35)(178,86)(186,35)(193,18)(199,25)(207,42)(214,62)(222,84)(230,84)(237,86)(243,92)(251,86)(256,84)(264,55)(272,28)(279,55)(285,89)(295,96)(302,96)(308,82)(316,55)(323,42)(331,72)(339,86)(348,92)(356,89)(364,62)(369,42)(377,38)(383,32)(390,35)(398,25)(406,18)(413,15)(421,35)(429,32)(436,49)(444,62)(450,69)(457,42)(463,18)(471,28)(478,45)(486,52)(494,49)(499,18)(507,55)(515,89)(524,96)(532,92)(540,82)(547,55)(555,42)(561,69)(566,72)(572,62)(578,69)(584,86)(591,76)(597,76)(604,92)(614,96)(621,86)(629,62)(636,35)(642,25)(649,22)(656,15)(664,8)(671,11)(679,35)(688,69)(696,49)(701,11)(709,18)(716,49)(722,66)(729,69)(735,52)(740,72)(748,89)(757,88)(767,88)(774,86)(781,76)(793,45)(804,69)(811,49)(819,15)(826,18)(837,66)(847,25)(854,42)(864,28)(871,25)(879,52)(886,96)(893,94)(908,94)(916,69)(921,28)(929,55)(934,82)(940,69)(948,49)(953,32)(961,49)(970,84)(977,62)(985,52)(992,42)(1000,25)(1007,45)(1013,76)(1020,69)(1028,66)(1035,69)(1043,82)(1050,76)(1056,52)(1061,18)(1069,11)(1076,49)(1084,76)(1091,89)(1099,62)(1102,69)(1110,86)(1117,82)(1121,80)};
\end{axis}

% ---------------- texts ----------------
\node[anchor=west, inner sep=0bp, font=\mtf] at (8bp,473bp) {US.500,H4\hspace{4bp} 1412.2 1413.7 1411.0 1413.2};
\node[anchor=west, inner sep=0bp, font=\mtf] at (8bp,58bp) {Stoch(5,3,3) 79.8030 82.7049};
\node[anchor=west, inner sep=0bp, font=\mtf] at (5bp,25bp) {MetaTrader FIX, © 2001-2012, MetaQuotes Software Corp.};

\foreach \n/\t in {tkA/1422.0,tkB/1411.5,tkC/1401.0,tkD/1390.5,tkE/1380.0,tkF/1369.5,tkG/1359.0,tkH/1348.5,tkI/1338.0,tkJ/1327.5,tkK/1317.0,tkM/1296.0}
  \node[tklbl] at (\n) {\t};

\node[lvbox, fill=red] at (lvA) {1419.2};
\node[lvbox, fill=black] at (lvB) {1413.2};
\node[lvbox, fill=red] at (lvC) {1402.8};
\node[lvbox, fill=red] at (lvD) {1394.0};
\node[lvbox, fill=red] at (lvE) {1374.7};
\node[lvbox, fill=mtgreen] at (lvF) {1366.6};
\node[lvbox, fill=red] at (lvG) {1355.0};
\node[lvbox, fill=red] at (lvH) {1319.6};
\node[lvbox, fill=red] at (lvI) {1305.8};

\node[anchor=west, inner sep=0bp, font=\mtf] at (1136bp,61bp) {100};
\node[anchor=west, inner sep=0bp, font=\mtf] at (1136bp,57bp) {80};
\node[anchor=west, inner sep=0bp, font=\mtf] at (1136bp,27bp) {20};
\node[anchor=west, inner sep=0bp, font=\mtf] at (1136bp,23bp) {0};
\end{tikzpicture}
\end{document}
